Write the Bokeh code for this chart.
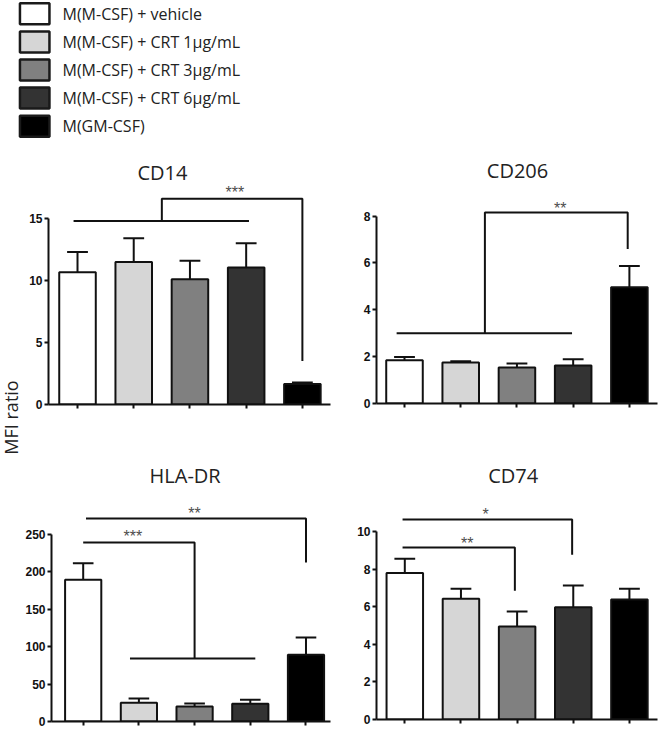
from bokeh.plotting import figure
from bokeh.layouts import column, row
from bokeh.models import Range1d, FixedTicker
from bokeh.core.properties import value
from bokeh.embed import file_html
from bokeh.resources import INLINE

# ---------------- data ----------------
groups = ["M(M-CSF) + vehicle", "M(M-CSF) + CRT 1µg/mL", "M(M-CSF) + CRT 3µg/mL",
          "M(M-CSF) + CRT 6µg/mL", "M(GM-CSF)"]
colors = ["#ffffff", "#d6d6d6", "#808080", "#333333", "#000000"]
positions = [1, 2, 3, 4, 5]
y_label = "MFI ratio"

cd14_mean = [10.67, 11.5, 10.1, 11.05, 1.65]
cd14_err = [1.63, 1.9, 1.5, 1.95, 0.12]
cd14_ticks = [0, 5, 10, 15]

cd206_mean = [1.85, 1.75, 1.54, 1.62, 4.96]
cd206_err = [0.14, 0.05, 0.17, 0.27, 0.91]
cd206_ticks = [0, 2, 4, 6, 8]

hla_mean = [189, 25, 20, 23.6, 89]
hla_err = [22, 5.7, 4, 5.4, 23]
hla_ticks = [0, 50, 100, 150, 200, 250]

cd74_mean = [7.8, 6.42, 4.95, 5.97, 6.38]
cd74_err = [0.75, 0.53, 0.79, 1.16, 0.57]
cd74_ticks = [0, 2, 4, 6, 8, 10]

# significance brackets (group positions / heights in data units)
cd14_sig_xs = [[0.93, 4.05], [2.5, 2.5, 5.0, 5.0]]
cd14_sig_ys = [[14.8, 14.8], [14.8, 16.6, 16.6, 3.5]]
cd14_star_x = [3.8]
cd14_star_y = [17.4]
cd14_star = ["***"]

cd206_sig_xs = [[0.86, 3.98], [2.43, 2.43, 4.97, 4.97]]
cd206_sig_ys = [[3.0, 3.0], [3.0, 8.16, 8.16, 6.6]]
cd206_star_x = [3.77]
cd206_star_y = [8.5]
cd206_star = ["**"]

hla_sig_xs = [[1.0, 3.0, 3.0], [1.84, 4.09], [1.05, 5.0, 5.0]]
hla_sig_ys = [[238.7, 238.7, 84], [84, 84], [270.7, 270.7, 212]]
hla_star_x = [1.89, 3.0]
hla_star_y = [251.7, 282.4]
hla_star = ["***", "**"]

cd74_sig_xs = [[0.96, 2.96, 2.96], [0.96, 3.98, 3.98]]
cd74_sig_ys = [[9.15, 9.15, 6.85], [10.64, 10.64, 8.76]]
cd74_star_x = [2.11, 2.44]
cd74_star_y = [9.57, 11.12]
cd74_star = ["**", "*"]

TXT = "Open Sans"
INK = "#111111"


def make_panel(title, title_xy, mean, err, ticks, xr, y_end, w, h, mb,
               sig_xs, sig_ys, sx, sy, stars):
    p = figure(width=w, height=h, x_range=Range1d(*xr), y_range=Range1d(0, y_end),
               output_backend="svg", toolbar_location=None, frame_align=False,
               min_border_left=mb[0], min_border_right=mb[1],
               min_border_top=mb[2], min_border_bottom=mb[3])
    p.grid.visible = False
    p.outline_line_color = None

    p.yaxis.ticker = FixedTicker(ticks=ticks)
    p.yaxis.bounds = (0, ticks[-1])
    p.xaxis.ticker = FixedTicker(ticks=positions)
    p.xaxis.major_label_text_font_size = "0px"
    p.xaxis.major_label_text_color = None
    p.xaxis.major_label_standoff = 0
    for ax in p.axis:
        ax.minor_tick_line_color = None
        ax.major_tick_in = 0
        ax.major_tick_out = 4
        ax.axis_line_width = 2
        ax.major_tick_line_width = 2
        ax.axis_line_color = INK
        ax.major_tick_line_color = INK
    p.yaxis.major_label_text_font = "Liberation Sans"
    p.yaxis.major_label_text_font_style = "bold"
    p.yaxis.major_label_text_font_size = "12px"
    p.yaxis.major_label_text_color = "#111111"
    p.yaxis.major_label_standoff = 2

    tops = [m + e for m, e in zip(mean, err)]
    p.segment(x0=positions, y0=mean, x1=positions, y1=tops, line_color=INK, line_width=2)
    p.segment(x0=[x - 0.185 for x in positions], y0=tops,
              x1=[x + 0.185 for x in positions], y1=tops, line_color=INK, line_width=2)
    p.vbar(x=positions, top=mean, bottom=0, width=0.65, fill_color=colors,
           line_color=INK, line_width=2)

    p.multi_line(xs=sig_xs, ys=sig_ys, line_color=INK, line_width=2)
    p.text(x=sx, y=sy, text=stars, text_font=value("Liberation Sans"),
           text_font_size="16px", text_color="#4d4d4d", text_align="center",
           text_baseline="middle", y_offset=4)
    p.text(x=[title_xy[0]], y=[title_xy[1]], text=[title], text_font=value(TXT),
           text_font_size="20px", text_color="#222222", text_align="center",
           text_baseline="middle")
    return p


# top row: 150..455 ; bottom row: 455..730 ; strip 0..22
p1 = make_panel("CD14", (2.51, 18.71), cd14_mean, cd14_err, cd14_ticks, (0.484, 5.5), 20.08,
                316, 305, (26, 8, 5, 51),
                cd14_sig_xs, cd14_sig_ys, cd14_star_x, cd14_star_y, cd14_star)
p2 = make_panel("CD206", (3.01, 9.95), cd206_mean, cd206_err, cd206_ticks, (0.502, 5.5), 10.59,
                323, 305, (38, 4, 5, 52),
                cd206_sig_xs, cd206_sig_ys, cd206_star_x, cd206_star_y, cd206_star)
p3 = make_panel("HLA-DR", (2.83, 328.2), hla_mean, hla_err, hla_ticks, (0.431, 5.44), 348.2,
                316, 275, (26, 8, 5, 9),
                hla_sig_xs, hla_sig_ys, hla_star_x, hla_star_y, hla_star)
p4 = make_panel("CD74", (2.93, 12.98), cd74_mean, cd74_err, cd74_ticks, (0.496, 5.5), 13.78,
                323, 275, (38, 4, 5, 11),
                cd74_sig_xs, cd74_sig_ys, cd74_star_x, cd74_star_y, cd74_star)

# strip carrying the shared y-axis title (page coords 0..22 x 150..730)
strip = figure(width=22, height=580, x_range=Range1d(0, 22), y_range=Range1d(730, 150),
               output_backend="svg", toolbar_location=None, frame_align=False,
               x_axis_location=None, y_axis_location=None,
               min_border_left=0, min_border_right=0, min_border_top=0, min_border_bottom=0)
strip.grid.visible = False
strip.outline_line_color = None
strip.text(x=[10], y=[417], text=[y_label], angle=90, angle_units="deg",
           text_align="center", text_baseline="middle", text_font=value(TXT),
           text_font_size="18px", text_color="#222222")

# ---------------- legend ----------------
leg = figure(width=661, height=150, x_range=Range1d(0, 661), y_range=Range1d(150, 0),
             output_backend="svg", toolbar_location=None, frame_align=False,
             x_axis_location=None, y_axis_location=None,
             min_border_left=0, min_border_right=0, min_border_top=0, min_border_bottom=0)
leg.grid.visible = False
leg.outline_line_color = None
leg_y = [13.3 + i * 28.1 for i in range(len(groups))]
leg.rect(x=34.2, y=leg_y, width=29.5, height=21, fill_color=colors,
         line_color="#1a1a1a", line_width=2.5)
leg.text(x=62, y=leg_y, text=groups, text_baseline="middle", text_align="left",
         text_font=value(TXT), text_font_size="16px", text_color="#222222")

layout = column(leg, row(strip, column(row(p1, p2), row(p3, p4))))
open("out.html", "w").write(file_html(layout, INLINE))
